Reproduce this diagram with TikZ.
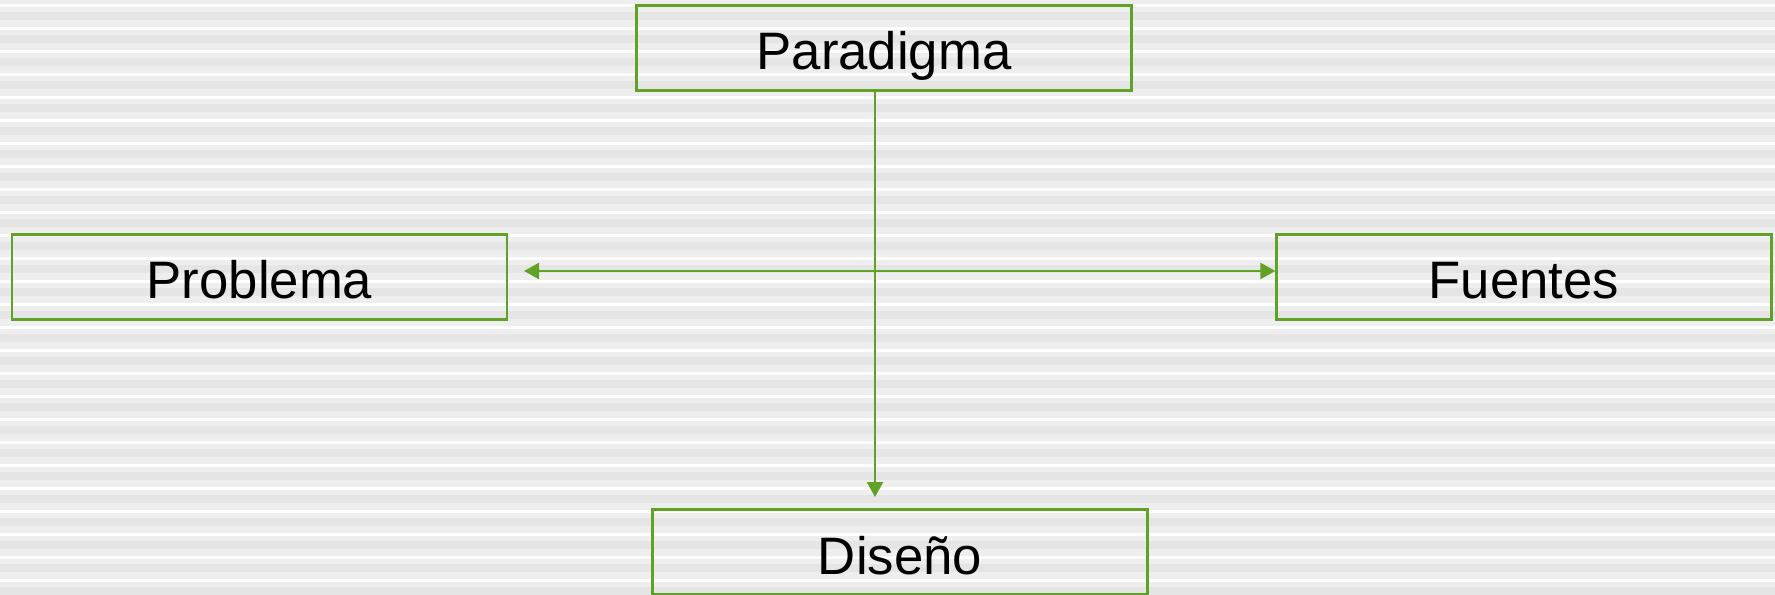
\documentclass[tikz,border=0pt]{standalone}
\usepackage{fontspec}
\setmainfont{Liberation Sans}
\usetikzlibrary{arrows.meta}
\definecolor{boxGreen}{RGB}{96,162,38}
\definecolor{stripeBase}{RGB}{238,238,238}
\definecolor{stripeDark}{RGB}{229,229,229}
\def\drawStripes{
\fill[stripeBase] (0,0) rectangle (1775,595);
\foreach \k in {-1,...,25} {
\fill[stripeDark] (0,{12+23*\k}) rectangle (1775,{20+23*\k});
\fill[white] (0,{3.5+23*\k}) rectangle (1775,{6.5+23*\k});
}
}
\begin{document}
\begin{tikzpicture}[x=0.02cm,y=-0.02cm,
box/.style={draw=boxGreen,line width=1.3pt,minimum width=9.9cm,minimum height=1.7cm,inner sep=0pt,text height=1.0cm,text depth=0.12cm,font=\fontsize{30}{36}\selectfont},
link/.style={draw=boxGreen,line width=1.3pt}]
\useasboundingbox (0,0) rectangle (1775,595);
\drawStripes
\node[box] (par) at (884,48) {Paradigma};
\node[box] (prob) at (259.5,277) {Problema};
\node[box] (fue) at (1524,277) {Fuentes};
\node[box] (dis) at (900,552) {Diseño};
\coordinate (dtip) at (875,497);
\coordinate (ptip) at (524,271);
\draw[link,-{Triangle[length=0.3cm,width=0.32cm]}] (par.south -| dtip) -- (dtip);
\draw[link,{Triangle[length=0.3cm,width=0.32cm]}-{Triangle[length=0.3cm,width=0.32cm]}] (ptip) -- (fue.west |- ptip);
\end{tikzpicture}
\end{document}
